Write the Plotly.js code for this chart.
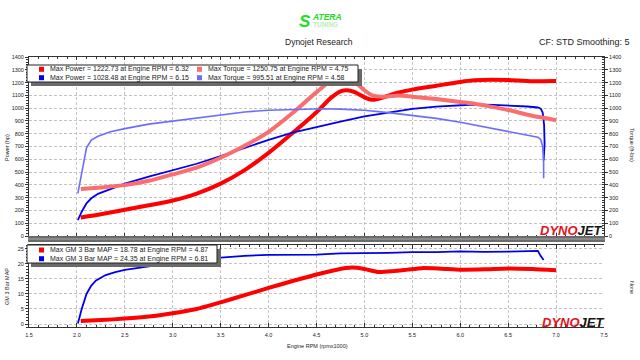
<!DOCTYPE html>
<html><head><meta charset="utf-8">
<script src="https://cdn.plot.ly/plotly-3.0.1.min.js"></script>
<style>html,body{margin:0;padding:0;background:#fff}#chart{width:640px;height:360px}</style>
</head><body><div id="chart"></div>
<script>
// ---- Data ----
const rpmRun1 = [2.04,2.25,2.5,2.75,3.0,3.25,3.5,3.75,4.0,4.25,4.5,4.65,4.75,4.82,4.9,5.0,5.09,5.2,5.35,5.5,5.75,6.0,6.15,6.32,6.5,6.75,7.0];
const powerRun1 = [145,170,205,240,278,332,410,515,650,805,968,1080,1131,1140,1125,1085,1065,1085,1120,1145,1175,1205,1218,1222.73,1220,1210,1212];
const torqueRun1 = [367,380,398,432,482,535,612,705,815,962,1125,1215,1250.75,1243,1205,1140,1098,1090,1098,1090,1072,1048,1035,1012,985,940,906];

const rpmPowerRun2 = [2.01,2.05,2.1,2.15,2.22,2.35,2.5,2.75,3.0,3.25,3.5,3.75,4.0,4.25,4.58,4.75,5.0,5.25,5.5,5.75,6.0,6.15,6.35,6.5,6.7,6.81,6.84,6.86,6.875,6.88,6.87];
const powerRun2 = [125,190,255,295,330,370,410,465,516,565,625,690,752,808,868,895,935,965,995,1012,1022,1028.48,1025,1021,1013,1005,996,965,870,720,590];
const rpmTorqueRun2 = [2.01,2.05,2.1,2.15,2.22,2.35,2.5,2.75,3.0,3.25,3.5,3.75,4.0,4.25,4.58,4.75,5.0,5.25,5.5,5.75,6.0,6.25,6.5,6.7,6.81,6.84,6.86,6.87,6.87];
const torqueRun2 = [333,500,690,750,780,815,840,875,900,922,948,970,984,990,995.51,992,984,965,945,920,890,855,818,790,772,755,700,580,451];

const rpmMapRun1 = [2.04,2.25,2.5,2.75,3.0,3.25,3.5,3.75,4.0,4.25,4.5,4.7,4.87,5.0,5.15,5.3,5.45,5.6,5.8,6.0,6.25,6.5,6.75,7.0];
const mapRun1 = [1.0,1.3,1.8,2.5,3.6,5.0,7.2,9.6,12.0,14.3,16.5,18.0,18.78,18.3,17.3,17.6,18.1,18.6,18.4,18.1,18.2,18.5,18.3,17.9];
const rpmMapRun2 = [2.01,2.05,2.1,2.15,2.2,2.3,2.4,2.5,2.75,3.0,3.25,3.5,3.75,4.0,4.25,4.5,4.75,5.0,5.25,5.5,5.75,6.0,6.25,6.5,6.75,6.81,6.84,6.87];
const mapRun2 = [0.2,5.0,10.0,12.8,14.5,16.3,17.3,18.0,19.2,20.2,21.5,22.2,22.7,23.0,23.1,23.1,23.5,23.5,23.7,23.9,23.9,24.2,24.0,24.1,24.3,24.35,22.6,21.3];

const topLegendLabels = [
  "Max Power = 1222.73 at Engine RPM = 6.32",
  "Max Torque = 1250.75 at Engine RPM = 4.75",
  "Max Power = 1028.48 at Engine RPM = 6.15",
  "Max Torque = 995.51 at Engine RPM = 4.58"
];
const bottomLegendLabels = [
  "Max GM 3 Bar MAP = 18.78 at Engine RPM = 4.87",
  "Max GM 3 Bar MAP = 24.35 at Engine RPM = 6.81"
];
const titleText = "Dynojet Research";
const cfText = "CF: STD Smoothing: 5";
const xTitle = "Engine RPM (rpmx1000)";
const yTitleTopLeft = "Power (hp)";
const yTitleTopRight = "Torque (ft-lbs)";
const yTitleBotLeft = "GM 3 Bar MAP";
const yTitleBotRight = "None";

// ---- Styling ----
const RED = "#ff0000", SALMON = "#fa6e6e", BLUE = "#0000f0", LBLUE = "#6c6cff";
const FONT = "Liberation Sans, Arial, sans-serif";
const L = 29, R = 604, T = 57, B = 327;
const px = x => (x - L) / (R - L);
const py = y => (B - y) / (B - T);

const traces = [
  {x: rpmRun1, y: powerRun1, xaxis:'x2', yaxis:'y', mode:'lines', line:{color:RED, width:4, shape:'spline', smoothing:0.6}},
  {x: rpmRun1, y: torqueRun1, xaxis:'x2', yaxis:'y3', mode:'lines', line:{color:SALMON, width:4, shape:'spline', smoothing:0.6}},
  {x: rpmPowerRun2, y: powerRun2, xaxis:'x2', yaxis:'y', mode:'lines', line:{color:BLUE, width:1.8}},
  {x: rpmTorqueRun2, y: torqueRun2, xaxis:'x2', yaxis:'y3', mode:'lines', line:{color:LBLUE, width:1.6}},
  {x: rpmMapRun1, y: mapRun1, xaxis:'x', yaxis:'y2', mode:'lines', line:{color:RED, width:4, shape:'spline', smoothing:0.6}},
  {x: rpmMapRun2, y: mapRun2, xaxis:'x', yaxis:'y2', mode:'lines', line:{color:BLUE, width:1.8}}
];

const grid = {showgrid:true, gridcolor:'#c4c4c4', griddash:'3px,2px', gridwidth:1};
const tickFont = {size:5.5, color:'#222', family:FONT};
const yTop = [0,1400], yBot = [-1,26.3];
const topDom = [py(236), 1], botDom = [0, py(245)];

const layout = {
  width:640, height:360,
  margin:{l:L, r:640-R, t:T, b:360-B, pad:0},
  paper_bgcolor:'#fff', plot_bgcolor:'#fff',
  font:{family:FONT, color:'#222'},
  showlegend:false, hovermode:false,
  xaxis:Object.assign({anchor:'y2', domain:[0,1], range:[1.5,7.5], dtick:0.5, tick0:1.5, tickformat:'.1f',
    ticks:'inside', ticklen:4, tickcolor:'#333', tickfont:tickFont, ticklabelstandoff:2,
    showline:true, linecolor:'#333', linewidth:1, mirror:'ticks', zeroline:false,
    minor:{dtick:0.1, ticks:'inside', ticklen:2, tickcolor:'#333', showgrid:false}}, grid),
  xaxis2:Object.assign({anchor:'y', matches:'x', range:[1.5,7.5], dtick:0.5, showticklabels:false,
    ticks:'inside', ticklen:3, tickcolor:'#333', showline:true, linecolor:'#333', linewidth:1, mirror:'ticks', zeroline:false,
    minor:{dtick:0.1, ticks:'inside', ticklen:1.5, tickcolor:'#333', showgrid:false}}, grid),
  yaxis:Object.assign({anchor:'x2', domain:topDom, range:yTop, dtick:100, ticks:'outside', ticklen:3, tickcolor:'#333',
    tickfont:tickFont, showline:true, linecolor:'#333', linewidth:1, zeroline:false,
    minor:{dtick:20, ticks:'outside', ticklen:2, tickcolor:'#333', showgrid:false}}, grid),
  yaxis3:{anchor:'x2', overlaying:'y', side:'right', range:yTop, dtick:100, ticks:'outside', ticklen:3, tickcolor:'#333',
    tickfont:tickFont, showline:true, linecolor:'#333', linewidth:1, showgrid:false, zeroline:false,
    minor:{dtick:20, ticks:'inside', ticklen:2, tickcolor:'#333', showgrid:false}},
  yaxis2:Object.assign({anchor:'x', domain:botDom, range:yBot, dtick:5, tick0:0, ticks:'outside', ticklen:3, tickcolor:'#333',
    tickfont:tickFont, showline:true, linecolor:'#333', linewidth:1, zeroline:false,
    minor:{dtick:1, ticks:'outside', ticklen:2, tickcolor:'#333', showgrid:false}}, grid),
  yaxis4:{anchor:'x', overlaying:'y2', side:'right', range:yBot, dtick:5, tick0:0, ticks:'outside', ticklen:3, tickcolor:'#333',
    tickfont:tickFont, showline:true, linecolor:'#333', linewidth:1, showgrid:false, zeroline:false,
    minor:{dtick:1, ticks:'inside', ticklen:2, tickcolor:'#333', showgrid:false}},
  shapes:[], annotations:[]
};

function rectPx(x0,y0,x1,y1,fill,line){
  layout.shapes.push({type:'rect', xref:'paper', yref:'paper', x0:px(x0), x1:px(x1), y0:py(y1), y1:py(y0),
    fillcolor:fill, line: line || {width:0}, layer:'above'});
}
function textPx(x,y,text,opt){
  layout.annotations.push(Object.assign({xref:'paper', yref:'paper', x:px(x), y:py(y), text:text, showarrow:false,
    xanchor:'left', yanchor:'middle', font:{size:7, family:FONT, color:'#222'}}, opt||{}));
}

// dark separator band under top panel
rectPx(28,236,605,242,'#6a6a6a');
rectPx(28,238,605,240,'#8a8a8a');

// top legend
rectPx(31,69,362,86,'#6a6a6a');
rectPx(27,65,358,82,'#ffffff',{color:'#222',width:1});
const topColors = [RED, SALMON, BLUE, LBLUE];
const colX = [39, 197], rowY = [69.3, 77.7];
topLegendLabels.forEach((lab,i)=>{
  const c = i%2, r = Math.floor(i/2);
  rectPx(colX[c], rowY[r]-2.5, colX[c]+5, rowY[r]+2.5, topColors[i]);
  textPx(colX[c]+9, rowY[r], lab);
});

// bottom legend
rectPx(31,249,221,267,'#6a6a6a');
rectPx(27,245,217,263,'#ffffff',{color:'#222',width:1});
const botColors = [RED, BLUE];
const botRowY = [250, 258.7];
bottomLegendLabels.forEach((lab,i)=>{
  rectPx(39, botRowY[i]-2.5, 44, botRowY[i]+2.5, botColors[i]);
  textPx(48, botRowY[i], lab);
});

// titles
textPx(319,42,titleText,{xanchor:'center', font:{size:8.5, family:FONT, color:'#222'}});
textPx(632,42,cfText,{xanchor:'right', font:{size:9, family:FONT, color:'#222'}});
textPx(317,346,xTitle,{xanchor:'center', font:{size:5.5, family:FONT, color:'#222'}});
textPx(7,148,yTitleTopLeft,{xanchor:'center', textangle:-90, font:{size:5.5, family:FONT, color:'#222'}});
textPx(632,145,yTitleTopRight,{xanchor:'center', textangle:90, font:{size:5.5, family:FONT, color:'#222'}});
textPx(7,287,yTitleBotLeft,{xanchor:'center', textangle:-90, font:{size:5.5, family:FONT, color:'#222'}});
textPx(632,287,yTitleBotRight,{xanchor:'center', textangle:90, font:{size:5.5, family:FONT, color:'#222'}});

// logos
const dyno = "<b><i><span style='color:#e5121c'>DYNO</span><span style='color:#151515'>JET</span></i></b>";
textPx(604,231,dyno,{xanchor:'right', font:{size:13, family:FONT}});
textPx(606,322,dyno,{xanchor:'right', font:{size:13, family:FONT}});
textPx(297,21,"<b><i>S</i></b>",{font:{size:17, family:FONT, color:'#22dd22'}});
textPx(310,17,"<b><i>ATERA</i></b>",{font:{size:8.5, family:FONT, color:'#22dd22'}});
textPx(311,24.5,"<b>TUNING</b>",{font:{size:6.5, family:FONT, color:'#b5efb5'}});

Plotly.newPlot('chart', traces, layout, {staticPlot:true, displayModeBar:false});
</script>
</body></html>
